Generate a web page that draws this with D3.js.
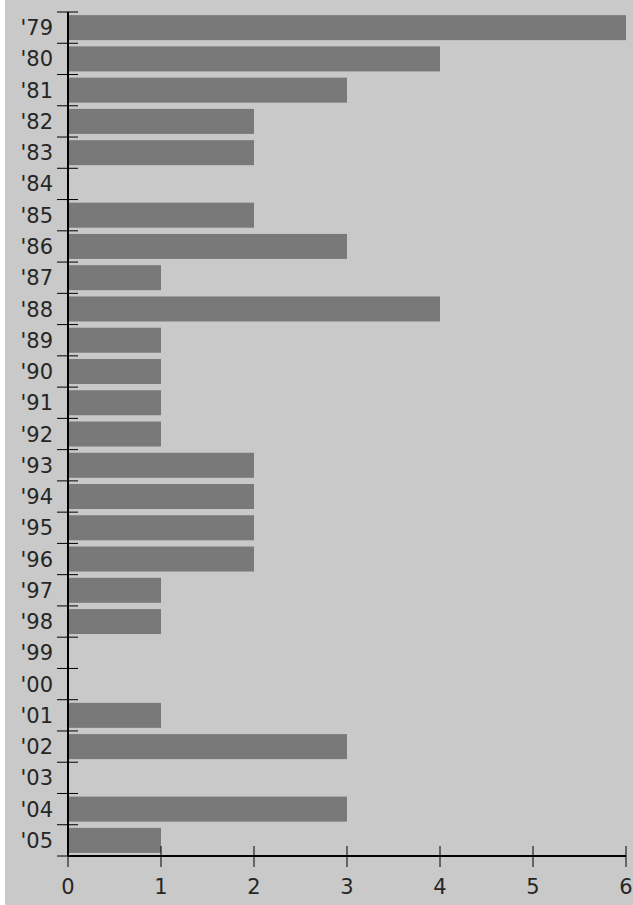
<!DOCTYPE html>
<meta charset="utf-8">
<script src="https://d3js.org/d3.v7.min.js"></script>
<style>
  body { margin: 0; background: #fff; }
  text { font-family: "DejaVu Sans", sans-serif; fill: #262626; }
</style>
<body>
<div id="chart"></div>
<script>
  // data
  const years = ["'79","'80","'81","'82","'83","'84","'85","'86","'87","'88","'89","'90","'91","'92",
                 "'93","'94","'95","'96","'97","'98","'99","'00","'01","'02","'03","'04","'05"];
  const counts = [6,4,3,2,2,0,2,3,1,4,1,1,1,1,2,2,2,2,1,1,0,0,1,3,0,3,1];
  const xTicks = [0,1,2,3,4,5,6];

  const W = 633, H = 905;
  const margin = {top: 12, left: 68, right: 7, bottom: 49};

  const svg = d3.select("#chart").append("svg")
    .attr("width", W).attr("height", H);

  // gray background panel
  svg.append("rect")
    .attr("x", 5).attr("y", 0)
    .attr("width", W - 5).attr("height", H)
    .attr("fill", "#c9c9c9");

  const x = d3.scaleLinear().domain([0, 6]).range([margin.left, W - margin.right]);
  const y = d3.scaleBand().domain(years)
    .range([margin.top, H - margin.bottom])
    .paddingInner(0.2).paddingOuter(0.1);

  const data = years.map((d, i) => ({year: d, value: counts[i]}));

  // bars
  svg.append("g").selectAll("rect")
    .data(data.filter(d => d.value > 0))
    .join("rect")
      .attr("x", x(0))
      .attr("y", d => y(d.year))
      .attr("width", d => x(d.value) - x(0))
      .attr("height", y.bandwidth())
      .attr("fill", "#787978");

  // y axis: line, ticks on band boundaries, labels
  const yBottom = H - margin.bottom;
  const step = y.step();
  const y0 = margin.top;
  const bounds = d3.range(years.length + 1).map(i => y0 + i * step);

  svg.append("line")
    .attr("x1", x(0)).attr("x2", x(0))
    .attr("y1", y0).attr("y2", yBottom)
    .attr("stroke", "#000").attr("stroke-width", 2);

  svg.append("g").selectAll("line")
    .data(bounds)
    .join("line")
      .attr("x1", x(0) - 11).attr("x2", x(0) + 10)
      .attr("y1", d => d).attr("y2", d => d)
      .attr("stroke", "#000").attr("stroke-width", 1);

  svg.append("g").selectAll("text")
    .data(years)
    .join("text")
      .attr("x", x(0) - 15)
      .attr("y", d => y(d) + y.bandwidth() / 2)
      .attr("dy", "0.36em")
      .attr("text-anchor", "end")
      .style("font-size", "21px")
      .text(d => d);

  // x axis
  svg.append("line")
    .attr("x1", x(0)).attr("x2", x(6))
    .attr("y1", yBottom).attr("y2", yBottom)
    .attr("stroke", "#000").attr("stroke-width", 2);

  const xg = svg.append("g");
  xg.selectAll("line")
    .data(xTicks)
    .join("line")
      .attr("x1", d => x(d)).attr("x2", d => x(d))
      .attr("y1", yBottom - 10).attr("y2", yBottom + 11)
      .attr("stroke", "#000").attr("stroke-width", 1);

  xg.selectAll("text")
    .data(xTicks)
    .join("text")
      .attr("x", d => x(d))
      .attr("y", yBottom + 38)
      .attr("text-anchor", "middle")
      .style("font-size", "21px")
      .text(d => d);
</script>
</body>
